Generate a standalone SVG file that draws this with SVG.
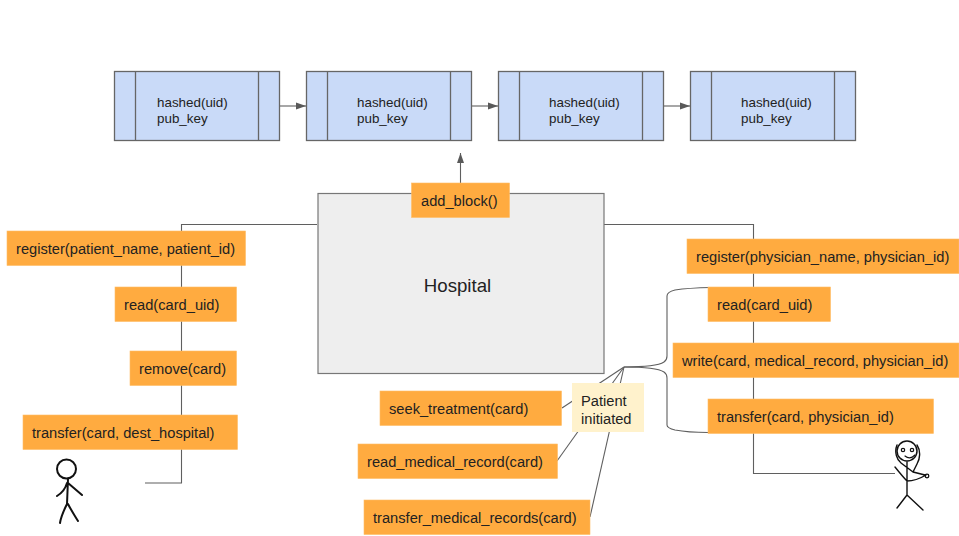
<svg xmlns="http://www.w3.org/2000/svg" width="959" height="536" viewBox="0 0 959 536">
<defs>
<style>
text{font-family:"Liberation Sans",Arial,sans-serif;fill:#222}
.o rect{fill:#ffab40;stroke:#ffbd66;stroke-width:.6}
.o text{font-size:14.67px}
.b rect,.b line{fill:#c9daf8;stroke:#666;stroke-width:1.3}
.b text{font-size:13.4px}
.c path{fill:none;stroke:#5f5f5f;stroke-width:1.1}
.s path,.s circle{fill:none;stroke:#111;stroke-width:2;stroke-linecap:round;stroke-linejoin:round}
</style>
<marker id="a" markerUnits="userSpaceOnUse" markerWidth="11" markerHeight="8" refX="10" refY="4" orient="auto"><path d="M0 .5L10 4L0 7.500Z" fill="#595959"/></marker>
</defs>
<rect width="959" height="536" fill="#fff"/>
<g id="connectors" class="c">
<path d="M279 106H306" marker-end="url(#a)"/>
<path d="M471 106H498" marker-end="url(#a)"/>
<path d="M663 106H690" marker-end="url(#a)"/>
<path d="M460.500 183V153" marker-end="url(#a)"/>
<path d="M317 224.500H181.500V483H145"/>
<path d="M604 224.500H753.500V473.500H895"/>
<path d="M624 367L562 408"/>
<path d="M624 367L557 461"/>
<path d="M624 367L590 517"/>
<path d="M624 367C640 367 658 366 664 362Q667 360 667 356V296Q667 292 675 290Q688 288 711 287.500"/>
<path d="M624 367C640 367 658 368 664 372Q667 374 667 378V425Q667 428 675 430Q688 432.500 708 432.500"/>
</g>
<g id="block1" class="b"><rect x="114.500" y="71.500" width="165" height="69"/><line x1="135.500" y1="71.500" x2="135.500" y2="140.500"/><line x1="258.500" y1="71.500" x2="258.500" y2="140.500"/><text x="157" y="107">hashed(uid)</text><text x="157" y="123">pub_key</text></g>
<g id="block2" class="b"><rect x="306.500" y="71.500" width="165" height="69"/><line x1="327.500" y1="71.500" x2="327.500" y2="140.500"/><line x1="450.500" y1="71.500" x2="450.500" y2="140.500"/><text x="357" y="107">hashed(uid)</text><text x="357" y="123">pub_key</text></g>
<g id="block3" class="b"><rect x="498.500" y="71.500" width="165" height="69"/><line x1="519.500" y1="71.500" x2="519.500" y2="140.500"/><line x1="642.500" y1="71.500" x2="642.500" y2="140.500"/><text x="549" y="107">hashed(uid)</text><text x="549" y="123">pub_key</text></g>
<g id="block4" class="b"><rect x="690.500" y="71.500" width="165" height="69"/><line x1="711.500" y1="71.500" x2="711.500" y2="140.500"/><line x1="834.500" y1="71.500" x2="834.500" y2="140.500"/><text x="741" y="107">hashed(uid)</text><text x="741" y="123">pub_key</text></g>
<g id="hospital"><rect x="318" y="193.500" width="286" height="180" fill="#eee" stroke="#777" stroke-width="1.2"/><text x="457.500" y="292" font-size="18.67" text-anchor="middle">Hospital</text></g>
<g id="add_block" class="o"><rect x="411.500" y="183" width="98" height="34.500"/><text x="421" y="206">add_block()</text></g>
<g id="register_patient" class="o"><rect x="7" y="231" width="238.500" height="34.500"/><text x="16" y="254">register(patient_name, patient_id)</text></g>
<g id="read_left" class="o"><rect x="115" y="287" width="121.500" height="34.500"/><text x="124" y="310">read(card_uid)</text></g>
<g id="remove" class="o"><rect x="130" y="351" width="106.500" height="34.500"/><text x="139" y="374">remove(card)</text></g>
<g id="transfer_left" class="o"><rect x="23" y="415" width="214.500" height="34.500"/><text x="32" y="438">transfer(card, dest_hospital)</text></g>
<g id="register_physician" class="o"><rect x="687" y="239" width="272" height="34.500"/><text x="696" y="262">register(physician_name, physician_id)</text></g>
<g id="read_right" class="o"><rect x="708" y="287" width="122.500" height="34.500"/><text x="717" y="310">read(card_uid)</text></g>
<g id="write" class="o"><rect x="673" y="343" width="286" height="34.500"/><text x="682" y="366">write(card, medical_record, physician_id)</text></g>
<g id="transfer_right" class="o"><rect x="708" y="399" width="225.500" height="34.500"/><text x="717" y="422">transfer(card, physician_id)</text></g>
<g id="seek_treatment" class="o"><rect x="380" y="391" width="181.500" height="34.500"/><text x="389" y="414">seek_treatment(card)</text></g>
<g id="read_medical_record" class="o"><rect x="358" y="444" width="199.500" height="34.500"/><text x="367" y="467">read_medical_record(card)</text></g>
<g id="transfer_medical_records" class="o"><rect x="364" y="500" width="226" height="34.500"/><text x="373" y="523">transfer_medical_records(card)</text></g>
<g id="patient_initiated"><rect x="572" y="383" width="72" height="49" fill="#fff2cc"/><text x="581" y="406" font-size="14.67">Patient</text><text x="581" y="424" font-size="14.67">initiated</text></g>
<g id="patient_figure" class="s"><circle cx="66.500" cy="469" r="9.500"/><path d="M68 479L67 504M67 483C65 490 62 493 57 496M68 483L82 495M67 504C64 510 61 516 60 523M68 504C71 510 75 516 78 521"/></g>
<g id="physician_figure" class="s" stroke-width="1.500"><circle cx="907" cy="451" r="10" style="stroke-width:1.500"/><path d="M907 462V495L897 508M907 495L923 510M895 467C899 472 903 477 907 481C913 481 921 478 926 475M897 445C894 452 897 460 901 463L913 472L925 475M917 445C921 451 920 459 917 464L913 472" style="stroke-width:1.400"/><circle cx="927" cy="476" r="1.800" style="stroke-width:1.300"/><circle cx="903" cy="450" r="1.700" style="stroke-width:1.200"/><circle cx="912" cy="450" r="1.700" style="stroke-width:1.200"/><path d="M905 456Q910 460 915 455" style="stroke-width:1.200"/></g>
</svg>
